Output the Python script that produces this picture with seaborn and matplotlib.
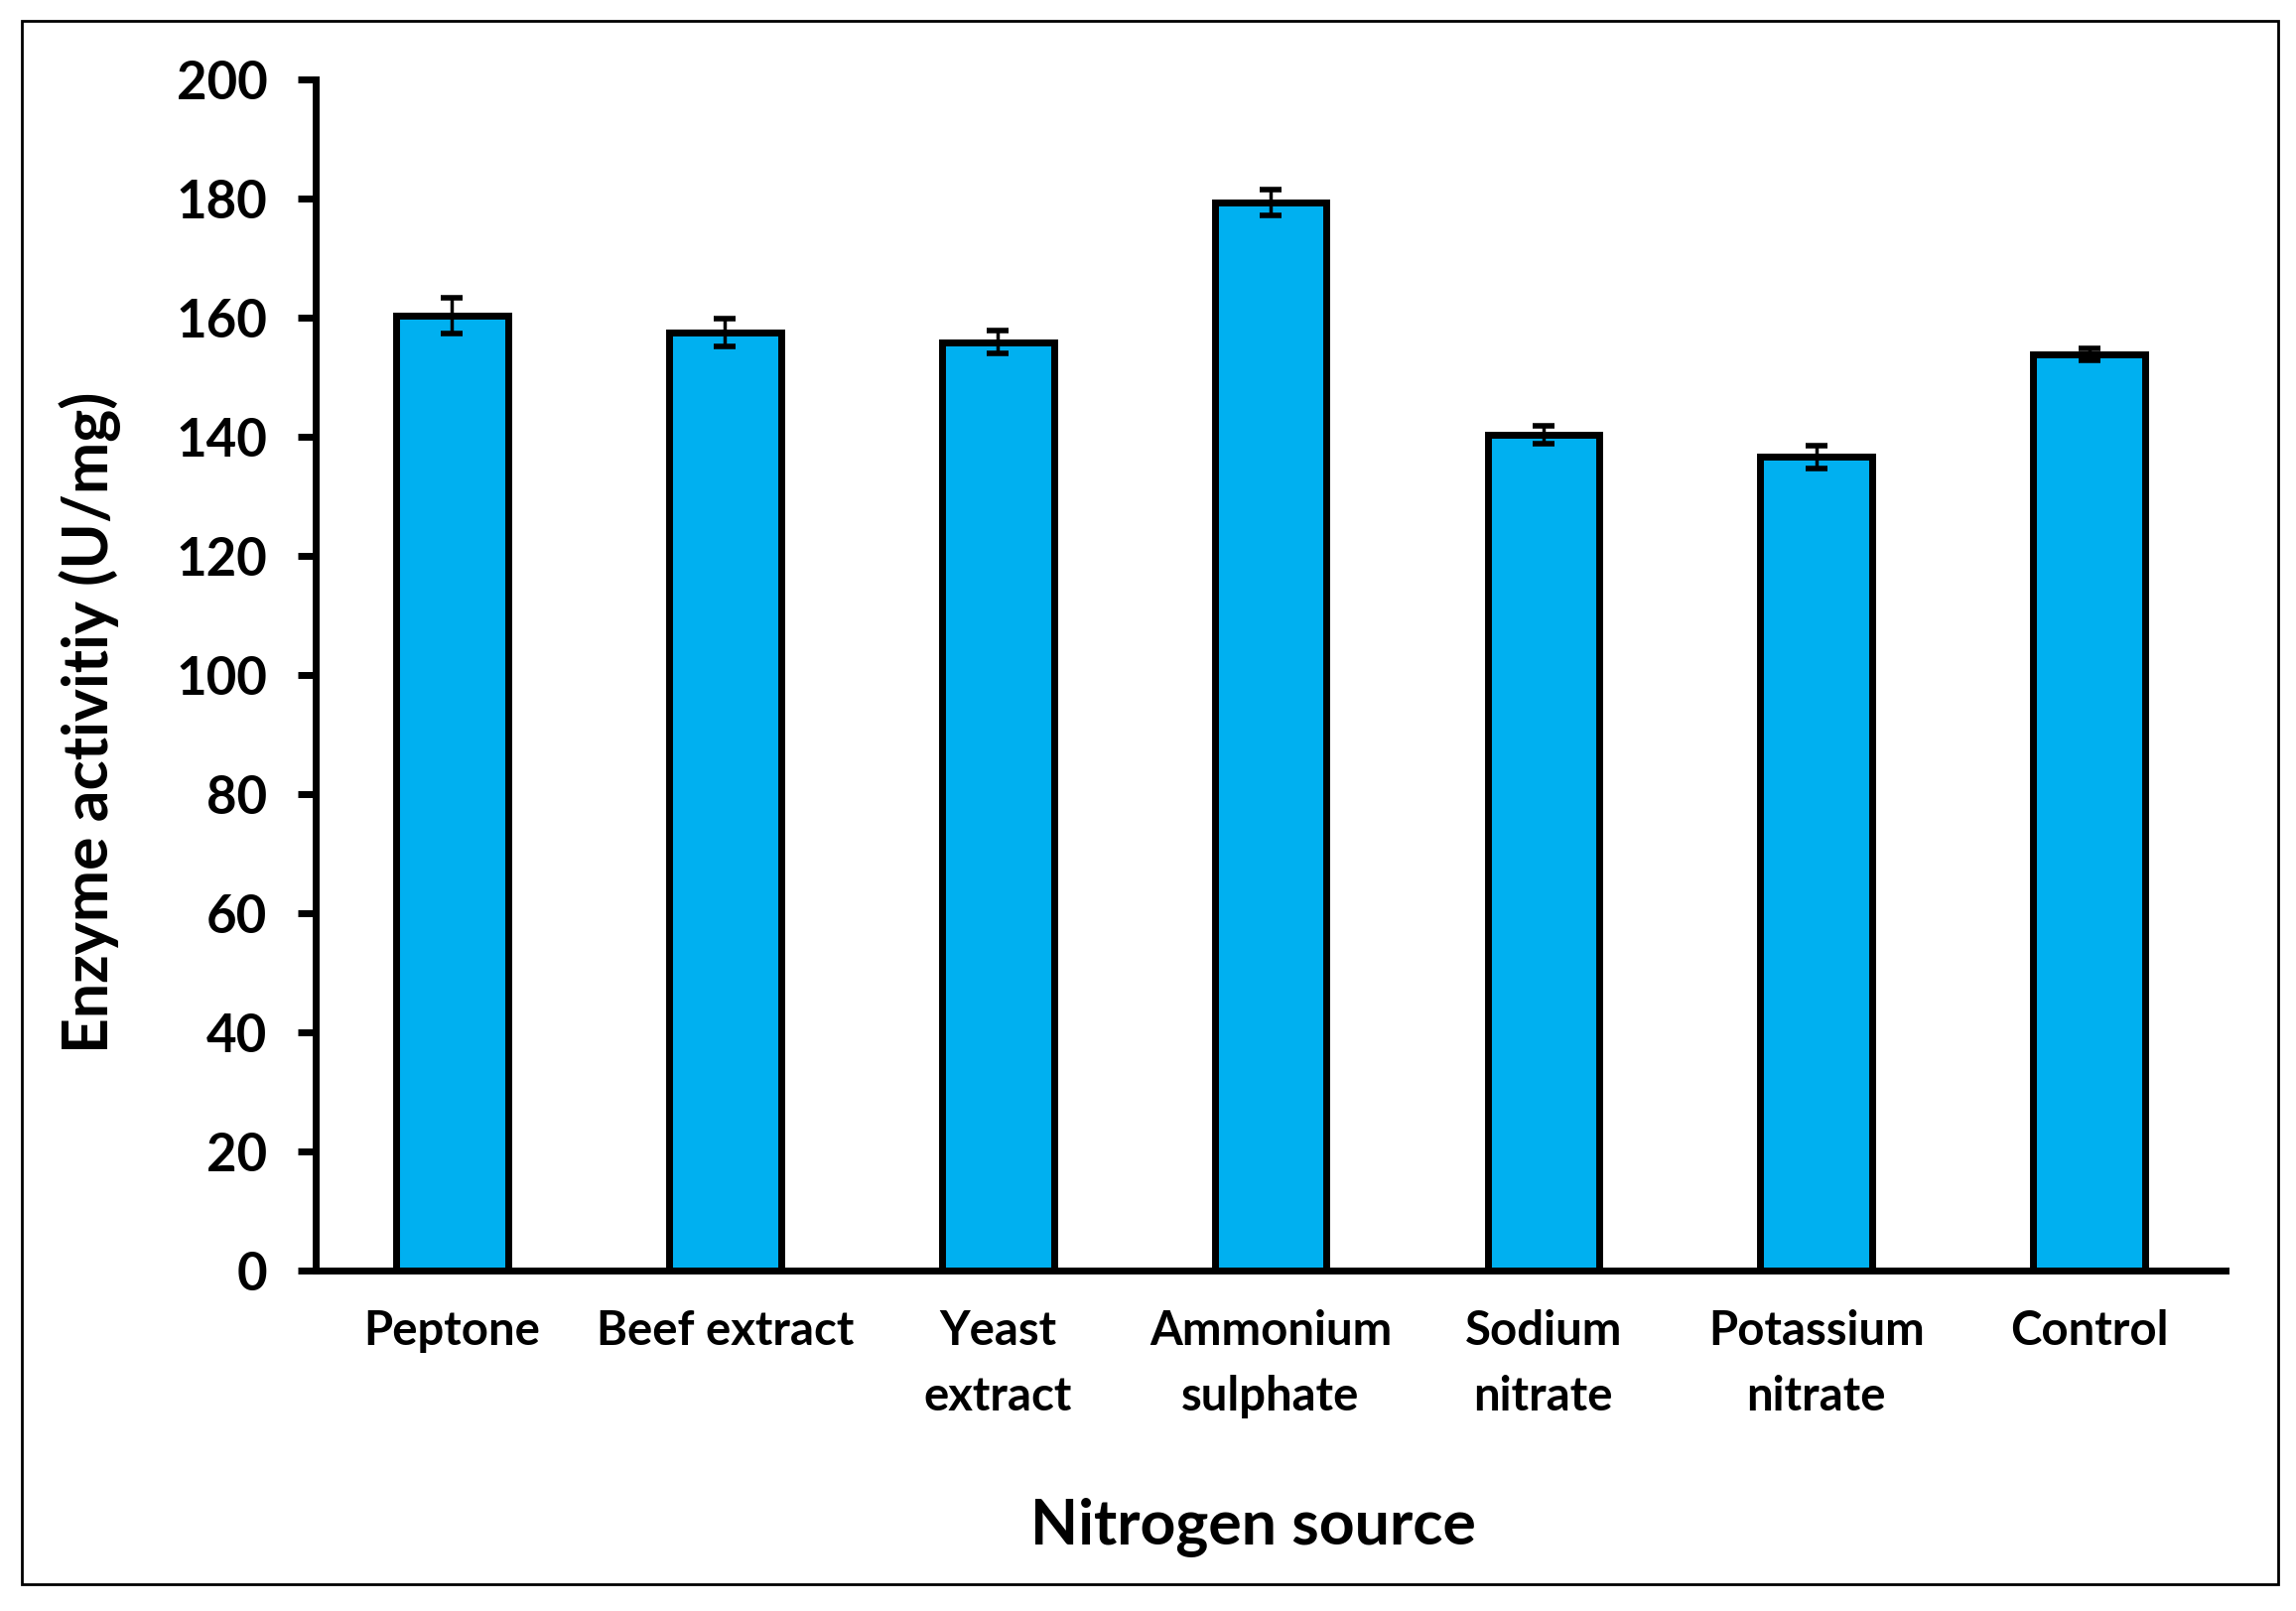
import numpy as np
import pandas as pd
import matplotlib
matplotlib.use("Agg")
import matplotlib.pyplot as plt
import matplotlib.patches as patches
import seaborn as sns

sources = ["Peptone", "Beef extract", "Yeast\nextract", "Ammonium\nsulphate",
           "Sodium\nnitrate", "Potassium\nnitrate", "Control"]
activity = [160.3, 157.5, 155.9, 179.3, 140.3, 136.6, 153.9]
activity_err = [3.0, 2.4, 1.9, 2.2, 1.5, 1.9, 1.0]

df = pd.DataFrame({"source": sources, "activity": activity})

sns.set_style("white")
plt.rcParams["font.family"] = ["Lato", "DejaVu Sans"]
plt.rcParams["font.weight"] = "bold"
plt.rcParams["text.color"] = "black"
plt.rcParams["axes.labelcolor"] = "black"
plt.rcParams["xtick.color"] = "black"
plt.rcParams["ytick.color"] = "black"

fig = plt.figure(figsize=(23.13, 16.23), dpi=100)
ax = fig.add_axes([0.1375, 0.2113, 0.9693 - 0.1375, 0.9507 - 0.2113])

sns.barplot(data=df, x="source", y="activity", color="#00B0F0", saturation=1,
            edgecolor="black", linewidth=5, width=0.41, errorbar=None, ax=ax)

ax.errorbar(np.arange(len(sources)), activity, yerr=activity_err, fmt="none",
            ecolor="black", elinewidth=2.5, capsize=8, capthick=4, zorder=5)

ax.set_ylim(0, 200)
ax.set_xlim(-0.5, len(sources) - 0.5)
ax.set_yticks(np.arange(0, 201, 20))
for s in ["top", "right"]:
    ax.spines[s].set_visible(False)
for s in ["left", "bottom"]:
    ax.spines[s].set_linewidth(5)
    ax.spines[s].set_color("black")

ax.tick_params(axis="y", direction="out", length=13, width=5, labelsize=38, pad=22, left=True)
ax.tick_params(axis="x", length=0, labelsize=34, pad=28)
for lbl in ax.get_xticklabels():
    lbl.set_fontweight("bold")
    lbl.set_linespacing(1.6)
    lbl.set_multialignment("center")
for lbl in ax.get_yticklabels():
    lbl.set_fontweight("bold")

ax.set_xlabel("Nitrogen source", fontsize=45, fontweight="bold", labelpad=57)
ax.xaxis.label.set_x(0.491)
ax.set_ylabel("Enzyme activitiy (U/mg)", fontsize=45, fontweight="bold", labelpad=40)
ax.yaxis.label.set_y(0.46)

# figure border
fig.patches.append(patches.Rectangle((22 / 2313, 1 - 1596 / 1623), (2295 - 22) / 2313,
                                     (1596 - 21) / 1623, transform=fig.transFigure,
                                     fill=False, edgecolor="black", linewidth=2))

fig.savefig("out.png", dpi=100)
